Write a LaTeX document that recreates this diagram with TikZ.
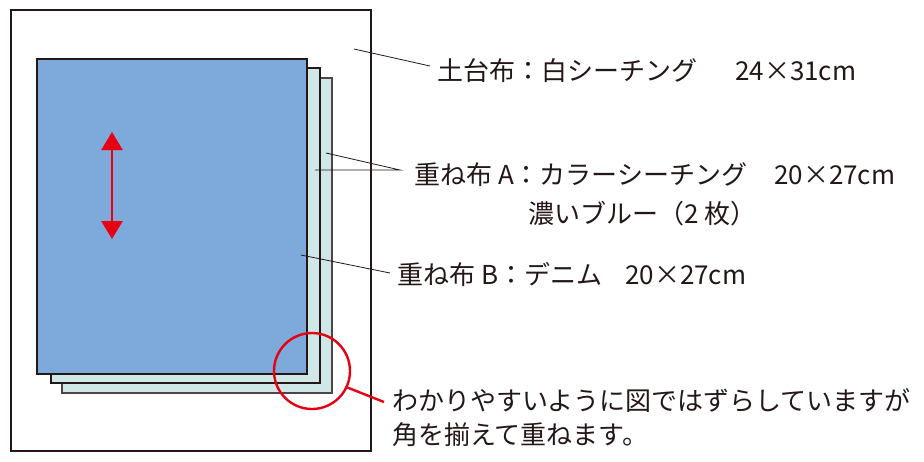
\documentclass[tikz,border=0pt]{standalone}
\usepackage{fontspec}
\newfontfamily\jp{Noto Sans CJK JP}
\usetikzlibrary{arrows.meta}
\definecolor{ink}{HTML}{231815}
\definecolor{sheetblue}{HTML}{7EAADB}
\definecolor{sheetcyan}{HTML}{CFE7E7}
\definecolor{markred}{HTML}{E60012}
\tikzset{
  frame/.style={draw=ink, line width=2pt},
  sheet/.style={draw=ink, line width=1.8pt},
  leader/.style={draw=ink, line width=0.8pt},
  label/.style={anchor=base west, inner sep=0pt, text=ink, font=\jp\fontsize{26pt}{30pt}\selectfont},
  redmark/.style={draw=markred, line width=2.4pt},
}
\begin{document}
\begin{tikzpicture}[x=1pt,y=-1pt]
\useasboundingbox (0,0) rectangle (924,461);
% base cloth frame
\draw[frame] (11,10) rectangle (371,451);
% sheets
\draw[sheet, fill=sheetcyan, draw=ink!80] (62,78) rectangle (332,393);
\draw[sheet, fill=sheetcyan] (51,68) rectangle (320,383);
\draw[sheet, fill=sheetblue] (37,59) rectangle (307,374);
% grain arrow
\coordinate (arT) at (112,132);
\coordinate (arB) at (112,239);
\draw[draw=markred, line width=2.6pt, {Triangle[width=21pt,length=18pt]}-{Triangle[width=21pt,length=18pt]}] (arT) -- (arB);
% texts
\node[label] (t1) at (437,80) {土台布：白シーチング};
\node[label] (t1s) at (735,80) {24×31cm};
\node[label] (tA) at (414,184) {重ね布 A：カラーシーチング};
\node[label] (tAs) at (774,184) {20×27cm};
\node[label] (tA2) at (528,223) {濃いブルー（2 枚）};
\node[label] (tB) at (397,284) {重ね布 B：デニム};
\node[label] (tBs) at (625,284) {20×27cm};
\node[label] (n1) at (392,410) {わかりやすいように図ではずらしていますが};
\node[label] (n2) at (392,444) {角を揃えて重ねます。};
% leaders
\coordinate (p1) at (354,49);
\coordinate (q1) at (430,66);
\draw[leader] (p1) -- (q1);
\coordinate (pA1) at (326,153);
\coordinate (pA2) at (315,170);
\coordinate (qA) at (400,170);
\draw[leader] (pA1) -- (qA) -- (pA2);
\coordinate (pB) at (301,255);
\coordinate (qB) at (390,273);
\draw[leader] (pB) -- (qB);
% corner circle
\node[redmark, circle, minimum size=76pt, inner sep=0pt] (circ) at (312,371) {};
\coordinate (cq) at (384,402);
\draw[redmark] (circ.-25) -- (cq);
\end{tikzpicture}
\end{document}
